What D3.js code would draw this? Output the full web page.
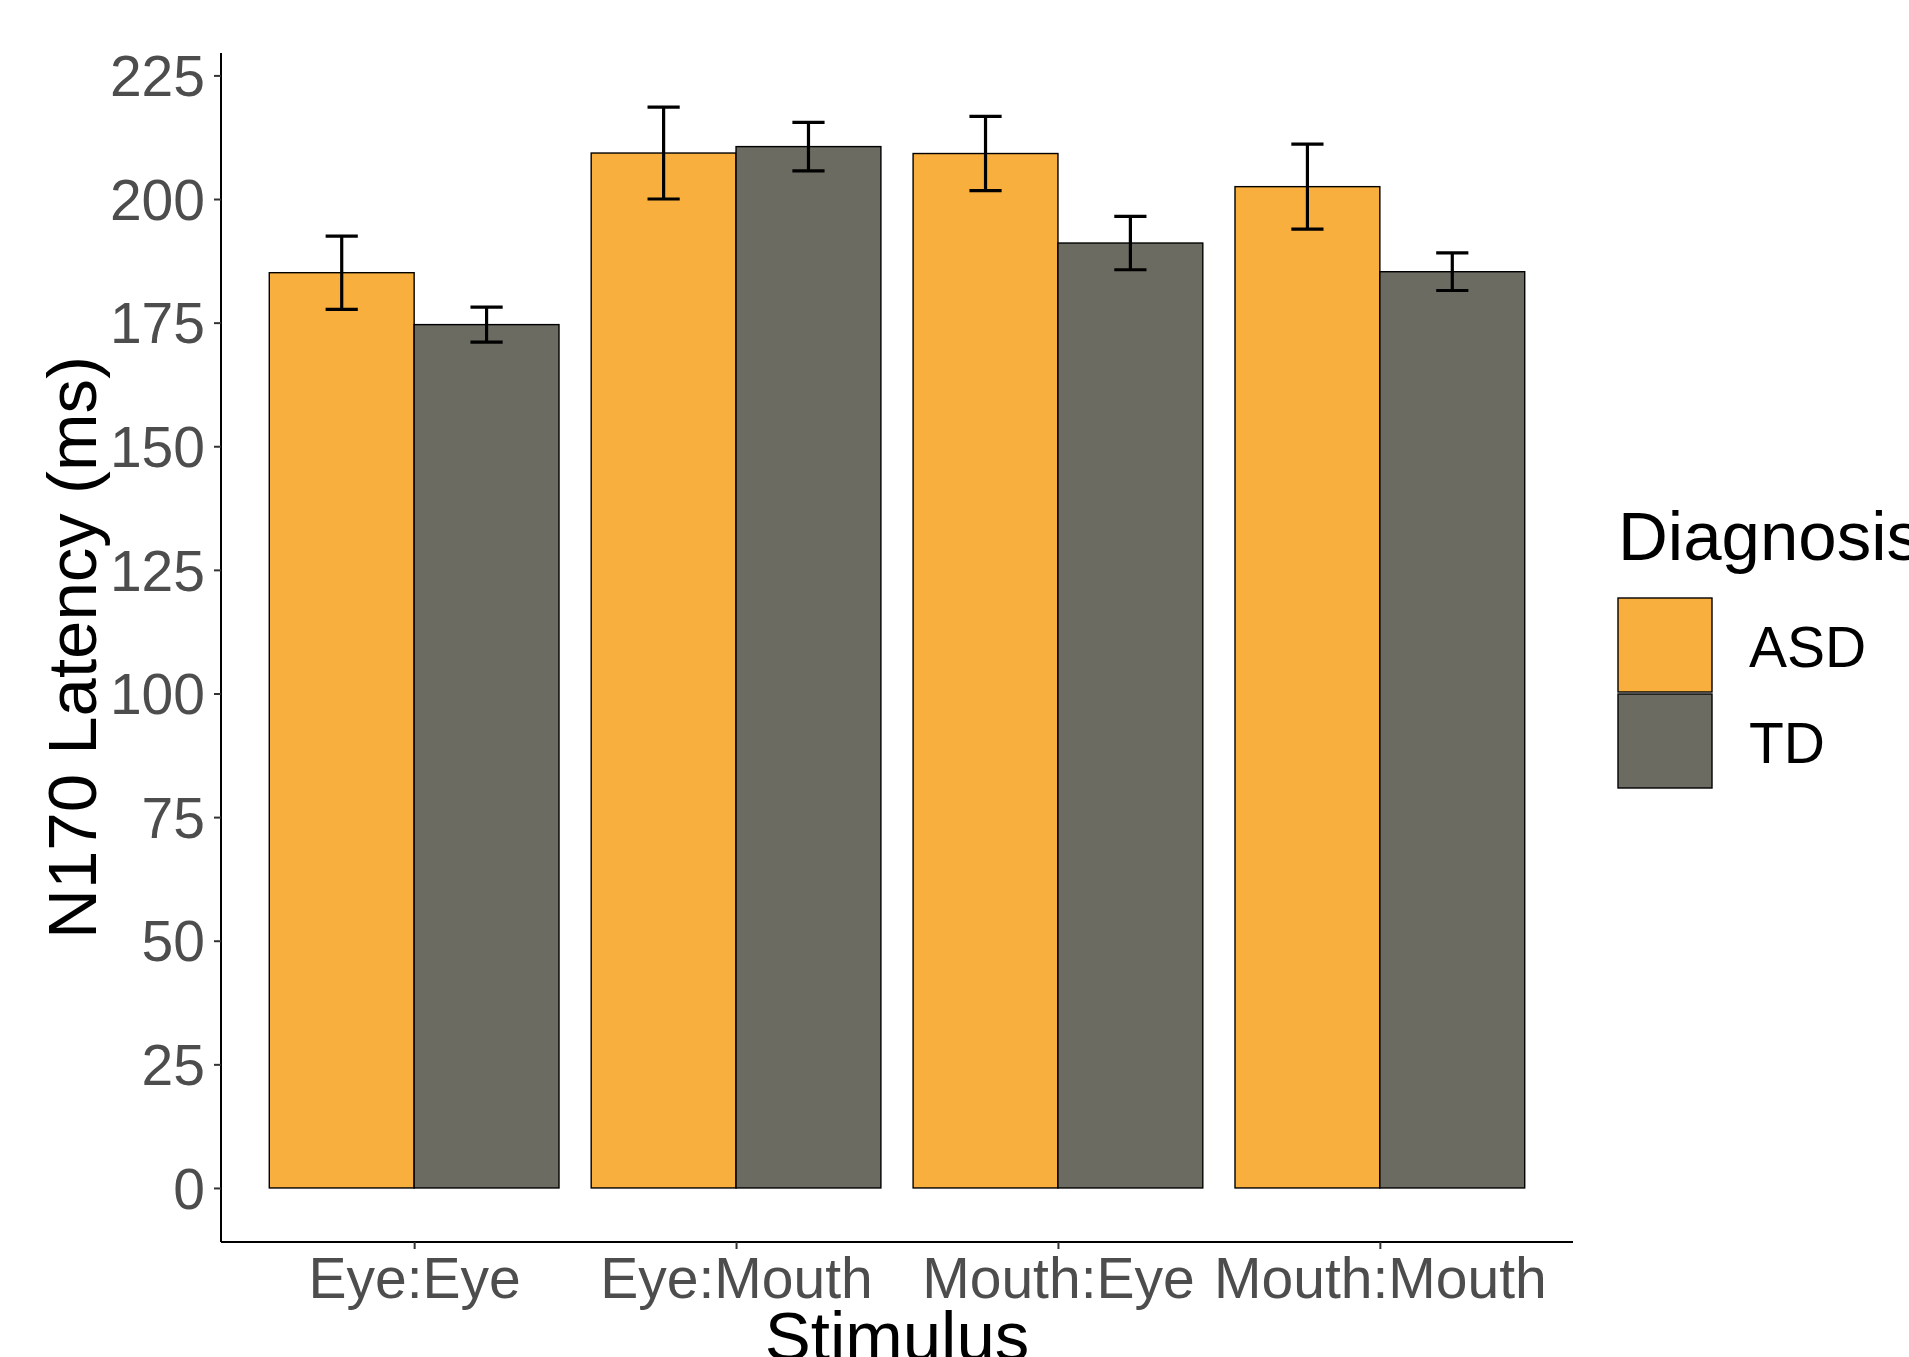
<!DOCTYPE html>
<html>
<head>
<meta charset="utf-8">
<script src="https://cdn.jsdelivr.net/npm/d3@7/dist/d3.min.js"></script>
<style>
  html, body { margin: 0; padding: 0; background: #fff; }
  svg { display: block; font-family: "Liberation Sans", Arial, Helvetica, sans-serif; }
</style>
</head>
<body>
<svg id="chart" width="1909" height="1357"></svg>
<script>
// N170 latency by stimulus condition and diagnostic group (mean ± SE)
const stimuli = ["Eye:Eye", "Eye:Mouth", "Mouth:Eye", "Mouth:Mouth"];
const groups = ["ASD", "TD"];
const asdMean = [185.1, 209.3, 209.2, 202.5];
const asdSE   = [7.4, 9.3, 7.5, 8.6];
const tdMean  = [174.6, 210.6, 191.1, 185.3];
const tdSE    = [3.55, 4.9, 5.4, 3.8];
const yTicks  = [0, 25, 50, 75, 100, 125, 150, 175, 200, 225];
const groupColors = ["#F9AF3D", "#6B6B61"];

const rows = [];
stimuli.forEach((s, i) => {
  rows.push({ stim: s, group: "ASD", mean: asdMean[i], se: asdSE[i] });
  rows.push({ stim: s, group: "TD", mean: tdMean[i], se: tdSE[i] });
});

const svg = d3.select("#chart");
const panel = { left: 221, right: 1573, top: 53, bottom: 1242 };

const x = d3.scalePoint().domain(stimuli).range([panel.left, panel.right]).padding(0.6);
const step = x.step();
const dodge = d3.scaleBand().domain(groups).range([-0.45 * step, 0.45 * step]).padding(0);
const color = d3.scaleOrdinal().domain(groups).range(groupColors);

const yMax = d3.max(rows, d => d.mean + d.se);
const y = d3.scaleLinear().domain([-0.05 * yMax, 1.05 * yMax]).range([panel.bottom, panel.top]);

// bars
svg.append("g").selectAll("rect").data(rows).join("rect")
  .attr("x", d => x(d.stim) + dodge(d.group))
  .attr("width", dodge.bandwidth())
  .attr("y", d => y(d.mean))
  .attr("height", d => y(0) - y(d.mean))
  .attr("fill", d => color(d.group))
  .attr("stroke", "#000")
  .attr("stroke-width", 1.4);

// error bars
const capHalf = 0.05 * step;
const eb = svg.append("g").attr("stroke", "#000").attr("stroke-width", 3.2).attr("fill", "none");
rows.forEach(d => {
  const cx = x(d.stim) + dodge(d.group) + dodge.bandwidth() / 2;
  const yHi = y(d.mean + d.se), yLo = y(d.mean - d.se);
  eb.append("line").attr("x1", cx).attr("x2", cx).attr("y1", yHi).attr("y2", yLo);
  eb.append("line").attr("x1", cx - capHalf).attr("x2", cx + capHalf).attr("y1", yHi).attr("y2", yHi);
  eb.append("line").attr("x1", cx - capHalf).attr("x2", cx + capHalf).attr("y1", yLo).attr("y2", yLo);
});

// y axis
const yAxis = svg.append("g").attr("transform", `translate(${panel.left},0)`)
  .call(d3.axisLeft(y).tickValues(yTicks).tickSize(7).tickPadding(9).tickSizeOuter(0));
yAxis.select(".domain").attr("stroke", "#000").attr("stroke-width", 2)
  .attr("d", `M0,${panel.top}V${panel.bottom}`);
yAxis.selectAll(".tick line").attr("stroke", "#333").attr("stroke-width", 2);
yAxis.selectAll(".tick text").attr("fill", "#4D4D4D").style("font-size", "57px").attr("dy", "0.355em");

// x axis
const xAxis = svg.append("g").attr("transform", `translate(0,${panel.bottom})`)
  .call(d3.axisBottom(x).tickSize(7).tickPadding(5).tickSizeOuter(0));
xAxis.select(".domain").attr("stroke", "#000").attr("stroke-width", 2)
  .attr("d", `M${panel.left},0H${panel.right}`);
xAxis.selectAll(".tick line").attr("stroke", "#333").attr("stroke-width", 2);
xAxis.selectAll(".tick text").attr("fill", "#4D4D4D").style("font-size", "57px").attr("dy", "0.78em");

// axis titles
svg.append("text")
  .attr("transform", `translate(96,${(panel.top + panel.bottom) / 2}) rotate(-90)`)
  .attr("text-anchor", "middle").attr("fill", "#000").style("font-size", "69px")
  .text("N170 Latency (ms)");
svg.append("text")
  .attr("x", (panel.left + panel.right) / 2).attr("y", 1360)
  .attr("text-anchor", "middle").attr("fill", "#000").style("font-size", "69px")
  .text("Stimulus");

// legend
const legend = svg.append("g").attr("transform", "translate(1618,0)");
legend.append("text").attr("x", 0).attr("y", 560).attr("fill", "#000")
  .style("font-size", "69px").text("Diagnosis");
groups.forEach((g, i) => {
  const top = 598 + i * 96;
  legend.append("rect").attr("x", 0).attr("y", top).attr("width", 94).attr("height", 94)
    .attr("fill", color(g)).attr("stroke", "#000").attr("stroke-width", 1.4);
  legend.append("text").attr("x", 131).attr("y", top + 69).attr("fill", "#000")
    .style("font-size", "57px").text(g);
});
</script>
</body>
</html>
